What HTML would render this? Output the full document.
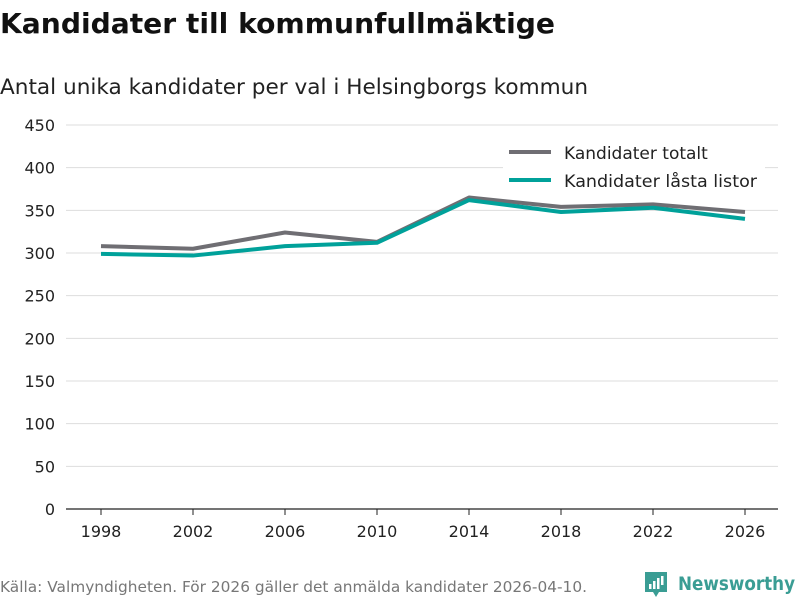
<!DOCTYPE html>
<html><head><meta charset="utf-8"><style>
body{margin:0;background:#fff;width:800px;height:600px;overflow:hidden;font-family:"DejaVu Sans","Liberation Sans",sans-serif}
</style></head><body>
<svg width="800" height="600" xmlns="http://www.w3.org/2000/svg">
<text x="0" y="33" font-size="28" font-weight="bold" fill="#111" textLength="555" lengthAdjust="spacingAndGlyphs">Kandidater till kommunfullmäktige</text>
<text x="0" y="94" font-size="21.6" fill="#222" textLength="588" lengthAdjust="spacingAndGlyphs">Antal unika kandidater per val i Helsingborgs kommun</text>
<g id="grid"></g><g id="yt"></g><g id="xt"></g><g id="lines"></g>
<g>
<rect x="503" y="138" width="262" height="60" fill="#fff"/>
<line x1="509" y1="152" x2="551" y2="152" stroke="#6f6e73" stroke-width="4"/>
<text x="564" y="159" font-size="17" fill="#222">Kandidater totalt</text>
<line x1="509" y1="180" x2="551" y2="180" stroke="#00a19a" stroke-width="4"/>
<text x="564" y="187" font-size="17" fill="#222" textLength="193" lengthAdjust="spacingAndGlyphs">Kandidater låsta listor</text>
</g>
<text x="0" y="592" font-size="15.3" fill="#777" textLength="587" lengthAdjust="spacingAndGlyphs">Källa: Valmyndigheten. För 2026 gäller det anmälda kandidater 2026-04-10.</text>
<g>
<path d="M645 572h22v20h-8l-3 5-3-5h-8z" fill="#3a9d94"/>
<rect x="649" y="584" width="2.5" height="5" fill="#fff"/><rect x="653" y="581" width="2.5" height="8" fill="#fff"/><rect x="657" y="578" width="2.5" height="11" fill="#fff"/><rect x="661" y="576" width="2.5" height="9" fill="#fff"/>
<text x="678" y="590" font-size="19" fill="#3a9d94" font-weight="600" textLength="117" lengthAdjust="spacingAndGlyphs">Newsworthy</text>
</g>
</svg>
<script>
const years=[1998,2002,2006,2010,2014,2018,2022,2026];
const totalt=[308,305,324,313,365,354,357,348];
const lasta=[299,297,308,312,362,348,353,340];
const yTicks=[0,50,100,150,200,250,300,350,400,450];
const NS="http://www.w3.org/2000/svg";
const x=v=>101+(v-1998)*(644/28);
const y=v=>509-v*(384/450);
const grid=document.getElementById('grid'),yt=document.getElementById('yt'),xt=document.getElementById('xt'),lines=document.getElementById('lines');
yTicks.forEach(t=>{
 const l=document.createElementNS(NS,'line');
 l.setAttribute('x1',66);l.setAttribute('x2',778);l.setAttribute('y1',y(t));l.setAttribute('y2',y(t));
 l.setAttribute('stroke',t===0?'#222':'#ddd');l.setAttribute('stroke-width',t===0?1.3:1);
 
 
 grid.appendChild(l);
 const tx=document.createElementNS(NS,'text');
 tx.setAttribute('x',55);tx.setAttribute('y',y(t)+6);tx.setAttribute('text-anchor','end');tx.setAttribute('font-size',16);tx.setAttribute('fill','#222');
 tx.textContent=t;
 
 
 yt.appendChild(tx);
});
years.forEach(v=>{
 const l=document.createElementNS(NS,'line');
 l.setAttribute('x1',x(v));l.setAttribute('x2',x(v));l.setAttribute('y1',509);l.setAttribute('y2',515);l.setAttribute('stroke','#222');
 
 
 xt.appendChild(l);
 const tx=document.createElementNS(NS,'text');
 tx.setAttribute('x',x(v));tx.setAttribute('y',537);tx.setAttribute('text-anchor','middle');tx.setAttribute('font-size',16);tx.setAttribute('fill','#222');
 tx.textContent=v;
 
 
 xt.appendChild(tx);
});
[[totalt,'#6f6e73','line-kandidater-totalt'],[lasta,'#00a19a','line-kandidater-lasta']].forEach(([d,c,n])=>{
 const p=document.createElementNS(NS,'polyline');
 p.setAttribute('points',d.map((v,i)=>x(years[i])+','+y(v)).join(' '));
 p.setAttribute('fill','none');p.setAttribute('stroke',c);p.setAttribute('stroke-width',4);p.setAttribute('stroke-linejoin','round');
 
 
 lines.appendChild(p);
});
</script>
</body></html>
